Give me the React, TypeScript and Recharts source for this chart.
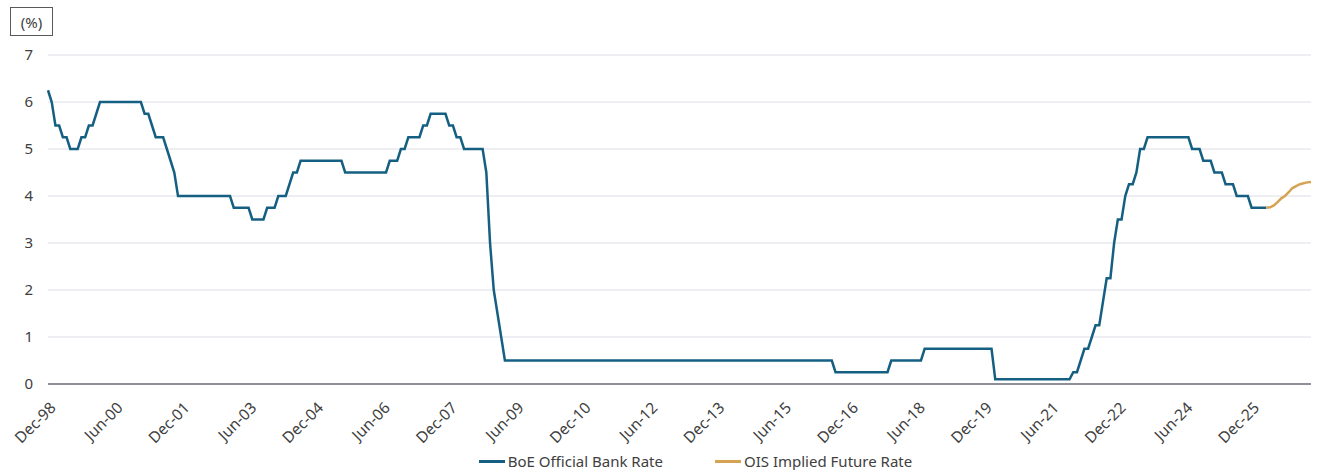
import { FC } from 'react';
import { Line, LineChart, XAxis, YAxis, CartesianGrid, ReferenceLine } from 'recharts';

// month-end BoE Bank Rate, Dec-98 .. Apr-26
const bankRate1998 = [6.25];
const bankRate1999 = [6.0, 5.5, 5.5, 5.25, 5.25, 5.0, 5.0, 5.0, 5.25, 5.25, 5.5, 5.5];
const bankRate2000 = [5.75, 6.0, 6.0, 6.0, 6.0, 6.0, 6.0, 6.0, 6.0, 6.0, 6.0, 6.0];
const bankRate2001 = [6.0, 5.75, 5.75, 5.5, 5.25, 5.25, 5.25, 5.0, 4.75, 4.5, 4.0, 4.0];
const bankRate2002 = [4.0, 4.0, 4.0, 4.0, 4.0, 4.0, 4.0, 4.0, 4.0, 4.0, 4.0, 4.0];
const bankRate2003 = [4.0, 3.75, 3.75, 3.75, 3.75, 3.75, 3.5, 3.5, 3.5, 3.5, 3.75, 3.75];
const bankRate2004 = [3.75, 4.0, 4.0, 4.0, 4.25, 4.5, 4.5, 4.75, 4.75, 4.75, 4.75, 4.75];
const bankRate2005 = [4.75, 4.75, 4.75, 4.75, 4.75, 4.75, 4.75, 4.5, 4.5, 4.5, 4.5, 4.5];
const bankRate2006 = [4.5, 4.5, 4.5, 4.5, 4.5, 4.5, 4.5, 4.75, 4.75, 4.75, 5.0, 5.0];
const bankRate2007 = [5.25, 5.25, 5.25, 5.25, 5.5, 5.5, 5.75, 5.75, 5.75, 5.75, 5.75, 5.5];
const bankRate2008 = [5.5, 5.25, 5.25, 5.0, 5.0, 5.0, 5.0, 5.0, 5.0, 4.5, 3.0, 2.0];
const bankRate2009 = [1.5, 1.0, 0.5, 0.5, 0.5, 0.5, 0.5, 0.5, 0.5, 0.5, 0.5, 0.5];
const bankRate2010 = [0.5, 0.5, 0.5, 0.5, 0.5, 0.5, 0.5, 0.5, 0.5, 0.5, 0.5, 0.5];
const bankRate2011 = [0.5, 0.5, 0.5, 0.5, 0.5, 0.5, 0.5, 0.5, 0.5, 0.5, 0.5, 0.5];
const bankRate2012 = [0.5, 0.5, 0.5, 0.5, 0.5, 0.5, 0.5, 0.5, 0.5, 0.5, 0.5, 0.5];
const bankRate2013 = [0.5, 0.5, 0.5, 0.5, 0.5, 0.5, 0.5, 0.5, 0.5, 0.5, 0.5, 0.5];
const bankRate2014 = [0.5, 0.5, 0.5, 0.5, 0.5, 0.5, 0.5, 0.5, 0.5, 0.5, 0.5, 0.5];
const bankRate2015 = [0.5, 0.5, 0.5, 0.5, 0.5, 0.5, 0.5, 0.5, 0.5, 0.5, 0.5, 0.5];
const bankRate2016 = [0.5, 0.5, 0.5, 0.5, 0.5, 0.5, 0.5, 0.25, 0.25, 0.25, 0.25, 0.25];
const bankRate2017 = [0.25, 0.25, 0.25, 0.25, 0.25, 0.25, 0.25, 0.25, 0.25, 0.25, 0.5, 0.5];
const bankRate2018 = [0.5, 0.5, 0.5, 0.5, 0.5, 0.5, 0.5, 0.75, 0.75, 0.75, 0.75, 0.75];
const bankRate2019 = [0.75, 0.75, 0.75, 0.75, 0.75, 0.75, 0.75, 0.75, 0.75, 0.75, 0.75, 0.75];
const bankRate2020 = [0.75, 0.75, 0.1, 0.1, 0.1, 0.1, 0.1, 0.1, 0.1, 0.1, 0.1, 0.1];
const bankRate2021 = [0.1, 0.1, 0.1, 0.1, 0.1, 0.1, 0.1, 0.1, 0.1, 0.1, 0.1, 0.25];
const bankRate2022 = [0.25, 0.5, 0.75, 0.75, 1.0, 1.25, 1.25, 1.75, 2.25, 2.25, 3.0, 3.5];
const bankRate2023 = [3.5, 4.0, 4.25, 4.25, 4.5, 5.0, 5.0, 5.25, 5.25, 5.25, 5.25, 5.25];
const bankRate2024 = [5.25, 5.25, 5.25, 5.25, 5.25, 5.25, 5.25, 5.0, 5.0, 5.0, 4.75, 4.75];
const bankRate2025 = [4.75, 4.5, 4.5, 4.5, 4.25, 4.25, 4.25, 4.0, 4.0, 4.0, 4.0, 3.75];
const bankRate2026 = [3.75, 3.75, 3.75, 3.75];

// OIS implied path, Apr-26 .. Apr-27
const oisImplied = [3.75, 3.76, 3.8, 3.87, 3.95, 4.0, 4.08, 4.17, 4.21, 4.25, 4.27, 4.29, 4.3];

const tickLabels = [
    'Dec-98', 'Jun-00', 'Dec-01', 'Jun-03', 'Dec-04', 'Jun-06', 'Dec-07', 'Jun-09', 'Dec-10', 'Jun-12',
    'Dec-13', 'Jun-15', 'Dec-16', 'Jun-18', 'Dec-19', 'Jun-21', 'Dec-22', 'Jun-24', 'Dec-25',
];
const yTicks = [0, 1, 2, 3, 4, 5, 6, 7];

const MONTHS = ['Jan', 'Feb', 'Mar', 'Apr', 'May', 'Jun', 'Jul', 'Aug', 'Sep', 'Oct', 'Nov', 'Dec'];
const BLUE = '#156082';
const GOLD = '#d6a354';
const TEXT = '#404040';
const FONT = '"Noto Sans", "Open Sans", sans-serif';

const bankRate = [
    bankRate1998, bankRate1999, bankRate2000, bankRate2001, bankRate2002, bankRate2003, bankRate2004,
    bankRate2005, bankRate2006, bankRate2007, bankRate2008, bankRate2009, bankRate2010, bankRate2011,
    bankRate2012, bankRate2013, bankRate2014, bankRate2015, bankRate2016, bankRate2017, bankRate2018,
    bankRate2019, bankRate2020, bankRate2021, bankRate2022, bankRate2023, bankRate2024, bankRate2025,
    bankRate2026,
].flat();

const totalMonths = bankRate.length + oisImplied.length - 1;
const oisStart = bankRate.length - 1;

const data = Array.from({ length: totalMonths }, (_, i) => {
    const m = (11 + i) % 12;
    const y = 1998 + Math.floor((11 + i) / 12);
    return {
        month: `${MONTHS[m]}-${String(y % 100).padStart(2, '0')}`,
        boe: i < bankRate.length ? bankRate[i] : null,
        ois: i >= oisStart ? oisImplied[i - oisStart] : null,
    };
});

const MonthTick: FC<any> = ({ x, y, payload }) => (
    <g transform={`translate(${x + 6},${y + 14})`}>
        <text
            x={0}
            y={4}
            transform='rotate(-45)'
            textAnchor='end'
            fontSize={15.5}
            fill={TEXT}
            fontFamily={FONT}
        >
            {payload.value}
        </text>
    </g>
);

const LegendItem: FC<{ color: string; label: string }> = ({ color, label }) => (
    <div style={{ display: 'flex', alignItems: 'center' }}>
        <div style={{ width: 26, height: 3, background: color, marginRight: 3 }} />
        <span>{label}</span>
    </div>
);

export default function App() {
    return (
        <div style={{ position: 'absolute', left: 0, top: 0, width: 1331, height: 470, background: '#fff' }}>
            <div
                style={{
                    position: 'absolute',
                    left: 10,
                    top: 7,
                    width: 43,
                    height: 29,
                    border: '1px solid #595959',
                    boxSizing: 'border-box',
                    display: 'flex',
                    alignItems: 'center',
                    justifyContent: 'center',
                    fontFamily: FONT,
                    fontSize: 15,
                    color: TEXT,
                }}
            >
                (%)
            </div>
            <LineChart
                width={1331}
                height={450}
                data={data}
                margin={{ left: 0, top: 55, right: 20, bottom: 0 }}
            >
                <CartesianGrid vertical={false} stroke='#dcdce6' strokeWidth={1} />
                <XAxis
                    dataKey='month'
                    ticks={tickLabels}
                    tick={<MonthTick />}
                    tickLine={false}
                    axisLine={false}
                    height={66}
                    interval={0}
                />
                <YAxis
                    domain={[0, 7]}
                    ticks={yTicks}
                    width={48}
                    tickLine={false}
                    axisLine={false}
                    tickMargin={9}
                    tick={{ fontSize: 15, fill: TEXT, fontFamily: FONT }}
                />
                <ReferenceLine y={0} stroke='#6f6f7a' strokeWidth={1.5} />
                <Line
                    type='linear'
                    dataKey='boe'
                    stroke={BLUE}
                    strokeWidth={2.5}
                    dot={false}
                    isAnimationActive={false}
                />
                <Line
                    type='linear'
                    dataKey='ois'
                    stroke={GOLD}
                    strokeWidth={2.5}
                    dot={false}
                    isAnimationActive={false}
                />
            </LineChart>
            <div
                style={{
                    position: 'absolute',
                    left: 0,
                    top: 451,
                    width: 1331,
                    display: 'flex',
                    justifyContent: 'center',
                    gap: 52,
                    fontFamily: FONT,
                    fontSize: 15,
                    color: TEXT,
                    paddingLeft: 60,
                    boxSizing: 'border-box',
                }}
            >
                <LegendItem color={BLUE} label='BoE Official Bank Rate' />
                <LegendItem color={GOLD} label='OIS Implied Future Rate' />
            </div>
        </div>
    );
}
